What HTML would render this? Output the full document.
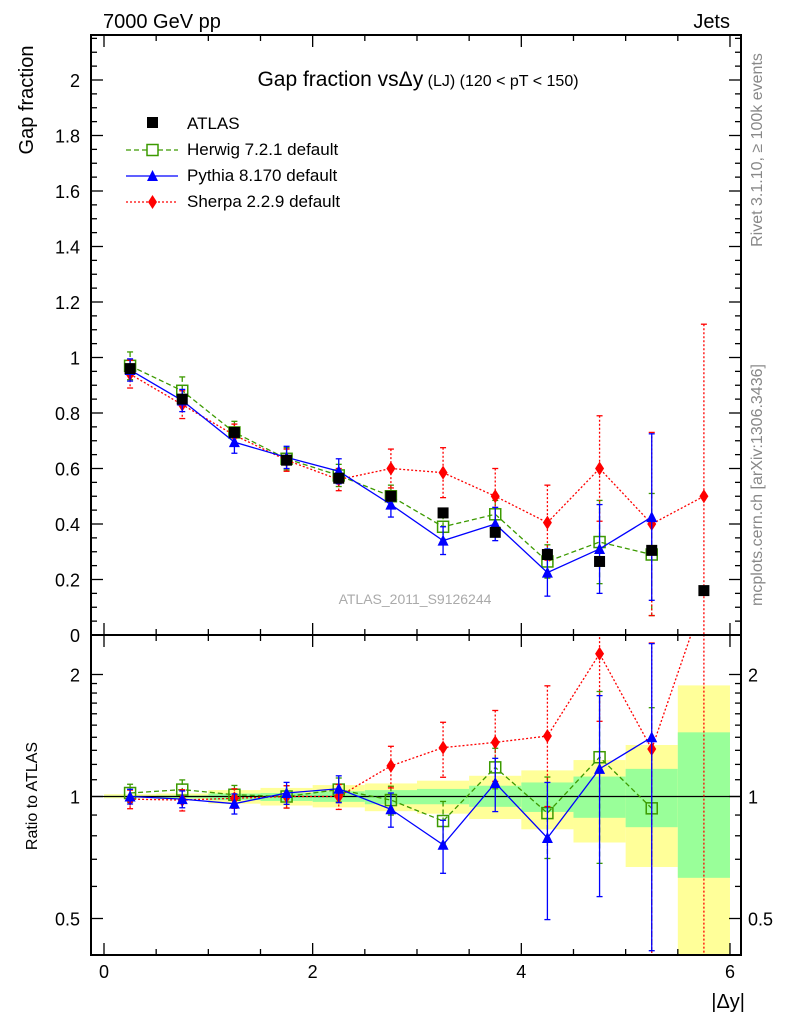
<!DOCTYPE html>
<html><head><meta charset="utf-8"><style>
html,body{margin:0;padding:0;background:#fff;width:786px;height:1024px;overflow:hidden}
svg{display:block;font-family:"Liberation Sans",sans-serif}
</style></head><body>
<svg id="c" width="786" height="1024" viewBox="0 0 786 1024" overflow="hidden">
<defs>
<clipPath id="clipMain"><rect x="91" y="35" width="650" height="600"/></clipPath>
<clipPath id="clipRatio"><rect x="91" y="635" width="650" height="320"/></clipPath>
</defs>
<g id="bands" clip-path="url(#clipRatio)"></g>
<g id="marks"></g>
<g id="axes"></g>
<text x="103" y="28" font-size="20">7000 GeV pp</text>
<text x="730" y="28" font-size="20" text-anchor="end">Jets</text>
<text x="418" y="86" font-size="21" text-anchor="middle">Gap fraction vs<tspan>Δy</tspan><tspan font-size="16"> (LJ) (120 &lt; pT &lt; 150)</tspan></text>
<text transform="translate(33,100) rotate(-90)" font-size="20" text-anchor="middle">Gap fraction</text>
<text transform="translate(37,796) rotate(-90)" font-size="16" text-anchor="middle">Ratio to ATLAS</text>
<text transform="translate(762,150) rotate(-90)" font-size="16" fill="#888" text-anchor="middle">Rivet 3.1.10, ≥ 100k events</text>
<text transform="translate(762,485) rotate(-90)" font-size="16" fill="#888" text-anchor="middle">mcplots.cern.ch [arXiv:1306.3436]</text>
<text x="415" y="604" font-size="14" fill="#aaa" text-anchor="middle">ATLAS_2011_S9126244</text>
<text x="745" y="1008" font-size="20" text-anchor="end">|Δy|</text>
<g id="legend">
<rect x="147" y="117" width="11" height="11" fill="#000"/>
<text x="187" y="129" font-size="17">ATLAS</text>
<line x1="126" y1="150" x2="178" y2="150" stroke="#3c9a00" stroke-dasharray="5,3" stroke-width="1.3"/>
<rect x="147" y="144.5" width="11" height="11" fill="#fff" stroke="#3c9a00" stroke-width="1.5"/>
<text x="187" y="155" font-size="17">Herwig 7.2.1 default</text>
<line x1="126" y1="176" x2="178" y2="176" stroke="#00f" stroke-width="1.3"/>
<polygon points="152.5,170 158,181 147,181" fill="#00f"/>
<text x="187" y="181" font-size="17">Pythia 8.170 default</text>
<line x1="126" y1="202" x2="178" y2="202" stroke="#f00" stroke-dasharray="2,2" stroke-width="1.3"/>
<polygon points="152.5,195 157,202 152.5,209 148,202" fill="#f00"/>
<text x="187" y="207" font-size="17">Sherpa 2.2.9 default</text>
</g>
</svg>
<script>
const xCenters=[0.25,0.75,1.25,1.75,2.25,2.75,3.25,3.75,4.25,4.75,5.25,5.75];
const binEdges=[0,0.5,1,1.5,2,2.5,3,3.5,4,4.5,5,5.5,6];
const atlas=[0.96,0.85,0.73,0.63,0.565,0.50,0.44,0.37,0.29,0.265,0.305,0.16];
const herwig=[0.97,0.88,0.73,0.635,0.575,0.50,0.39,0.435,0.265,0.335,0.29];
const herwigErr=[0.05,0.05,0.04,0.04,0.04,0.04,0.045,0.05,0.06,0.15,0.22];
const pythia=[0.955,0.845,0.695,0.64,0.59,0.47,0.34,0.40,0.225,0.31,0.425];
const pythiaErr=[0.04,0.04,0.04,0.04,0.045,0.045,0.05,0.06,0.085,0.16,0.30];
const sherpa=[0.94,0.83,0.72,0.63,0.56,0.60,0.585,0.50,0.405,0.60,0.40,0.50];
const sherpaErr=[0.05,0.05,0.04,0.04,0.04,0.07,0.09,0.10,0.135,0.19,0.33,0.62];
const herwigRatio=[1.02,1.04,1.01,1.0,1.04,0.98,0.87,1.18,0.91,1.25,0.935];
const pythiaRatio=[1.0,0.985,0.96,1.02,1.045,0.93,0.76,1.08,0.79,1.17,1.40];
const sherpaRatio=[0.985,0.98,0.99,1.0,1.0,1.19,1.32,1.36,1.41,2.25,1.31,3.1];
const yellowUp=[1.013,1.017,1.037,1.05,1.067,1.077,1.094,1.125,1.16,1.23,1.34,1.88];
const yellowDn=[0.99,0.985,0.96,0.95,0.94,0.92,0.907,0.88,0.83,0.77,0.67,0.39];
const greenUp=[1.004,1.006,1.017,1.02,1.03,1.037,1.044,1.063,1.083,1.12,1.17,1.44];
const greenDn=[0.996,0.99,0.98,0.975,0.97,0.957,0.957,0.943,0.916,0.886,0.84,0.63];
const mainTicks=[0,0.2,0.4,0.6,0.8,1,1.2,1.4,1.6,1.8,2];
const ratioTicks=[0.5,1,2];
const xTicks=[0,2,4,6];

const NS='http://www.w3.org/2000/svg';
const L=91,R=741,T=35,M=635,B=955;
const sx=v=>104+v*104.33;
const sy=v=>635-v*277.5;
const sr=v=>796.5-122*Math.log2(v);
function mk(p,tag,at){const e=document.createElementNS(NS,tag);for(const k in at)e.setAttribute(k,at[k]);p.appendChild(e);return e;}
const gB=document.getElementById('bands'),gM=document.getElementById('marks'),gA=document.getElementById('axes');

for(let i=0;i<yellowUp.length;i++){
 const x=sx(binEdges[i]),w=sx(binEdges[i+1])-sx(binEdges[i]);
 let y1=Math.max(M,sr(yellowUp[i])),y2=Math.min(B,sr(yellowDn[i]));
 let r=mk(gB,'rect',{x:x,y:y1,width:w,height:y2-y1,fill:'#ffff99'});
 
 
 let g1=Math.max(M,sr(greenUp[i])),g2=Math.min(B,sr(greenDn[i]));
 let r2=mk(gB,'rect',{x:x,y:g1,width:w,height:g2-g1,fill:'#99ff99'});
 
 
}
mk(gB,'line',{x1:L,x2:R,y1:sr(1),y2:sr(1),stroke:'#000','stroke-width':1.3});

function series(vals,errs,ys,clipId,ratio,color,dash,marker,name){
 const g=mk(gM,'g',{'clip-path':'url(#'+clipId+')'});
 
 
 let pts=vals.map((v,i)=>[sx(xCenters[i]),ys(v)]);
 if(color){
  let d=pts.map((p,i)=>(i?'L':'M')+p[0]+','+p[1]).join('');
  mk(g,'path',{d:d,fill:'none',stroke:color,'stroke-width':1.3,'stroke-dasharray':dash||'none'});
 }
 vals.forEach((v,i)=>{
  const x=sx(xCenters[i]);
  if(errs){
   let y1,y2;
   if(ratio){const re=errs[i]/atlas[i];y1=ys(v+re);y2=ys(Math.max(0.05,v-re));}
   else{y1=ys(v+errs[i]);y2=ys(v-errs[i]);}
   y1=Math.max(0,Math.min(1024,y1));y2=Math.max(0,Math.min(1024,y2));
   mk(g,'line',{x1:x,x2:x,y1:y1,y2:y2,stroke:color,'stroke-width':1.3,'stroke-dasharray':dash||'none'});
   mk(g,'line',{x1:x-3,x2:x+3,y1:y1,y2:y1,stroke:color,'stroke-width':1.3});
   mk(g,'line',{x1:x-3,x2:x+3,y1:y2,y2:y2,stroke:color,'stroke-width':1.3});
  }
  const y=ys(v);
  let m;
  if(marker==='sq') m=mk(g,'rect',{x:x-5.5,y:y-5.5,width:11,height:11,fill:'#000'});
  else if(marker==='osq') m=mk(g,'rect',{x:x-5.5,y:y-5.5,width:11,height:11,fill:'none',stroke:'#3c9a00','stroke-width':1.5});
  else if(marker==='tri') m=mk(g,'polygon',{points:`${x},${y-6} ${x+5.5},${y+5} ${x-5.5},${y+5}`,fill:'#00f'});
  else m=mk(g,'polygon',{points:`${x},${y-7} ${x+4.5},${y} ${x},${y+7} ${x-4.5},${y}`,fill:'#f00'});
  
  
 });
}
series(herwig,herwigErr,sy,'clipMain',false,'#3c9a00','5,3','osq','herwig-series');
series(sherpa,sherpaErr,sy,'clipMain',false,'#f00','2,2','dia','sherpa-series');
series(pythia,pythiaErr,sy,'clipMain',false,'#00f',null,'tri','pythia-series');
series(atlas,null,sy,'clipMain',false,null,null,'sq','atlas-series');
series(herwigRatio,herwigErr,sr,'clipRatio',true,'#3c9a00','5,3','osq','herwig-ratio');
series(sherpaRatio,sherpaErr,sr,'clipRatio',true,'#f00','2,2','dia','sherpa-ratio');
series(pythiaRatio,pythiaErr,sr,'clipRatio',true,'#00f',null,'tri','pythia-ratio');

mk(gA,'rect',{x:L,y:T,width:R-L,height:M-T,fill:'none',stroke:'#000','stroke-width':2});
mk(gA,'rect',{x:L,y:M,width:R-L,height:B-M,fill:'none',stroke:'#000','stroke-width':2});
for(let k=0;k<=43;k++){
 const v=k*0.05,y=sy(v);if(y<T)break;
 const len=(k%4===0)?12:6;
 mk(gA,'line',{x1:L,x2:L+len,y1:y,y2:y,stroke:'#000','stroke-width':1.3});
 mk(gA,'line',{x1:R-len,x2:R,y1:y,y2:y,stroke:'#000','stroke-width':1.3});
}
mainTicks.forEach(v=>{
 const t=mk(gA,'text',{x:80,y:sy(v)+7,'font-size':18,'text-anchor':'end'});t.textContent=String(v);
 
 
});
[0.5,0.6,0.7,0.8,0.9,1,1.1,1.2,1.3,1.4,1.5,1.6,1.7,1.8,1.9,2].forEach(v=>{
 const y=sr(v),len=(v===0.5||v===1||v===2)?12:6;
 mk(gA,'line',{x1:L,x2:L+len,y1:y,y2:y,stroke:'#000','stroke-width':1.3});
 mk(gA,'line',{x1:R-len,x2:R,y1:y,y2:y,stroke:'#000','stroke-width':1.3});
});
ratioTicks.forEach(v=>{
 const t=mk(gA,'text',{x:80,y:sr(v)+7,'font-size':18,'text-anchor':'end'});t.textContent=String(v);
 
 
 const t2=mk(gA,'text',{x:748,y:sr(v)+7,'font-size':18});t2.textContent=String(v);
 
 
});
for(let k=0;k<=12;k++){
 const v=k*0.5,x=sx(v),len=(k%4===0)?12:6;
 [M,B].forEach(yb=>{
  mk(gA,'line',{x1:x,x2:x,y1:yb,y2:yb-len,stroke:'#000','stroke-width':1.3});
  const yt=(yb===M?T:M);
  mk(gA,'line',{x1:x,x2:x,y1:yt,y2:yt+len,stroke:'#000','stroke-width':1.3});
 });
}
xTicks.forEach(v=>{
 const t=mk(gA,'text',{x:sx(v),y:978,'font-size':18,'text-anchor':'middle'});t.textContent=String(v);
 
 
});
</script>
</body></html>
